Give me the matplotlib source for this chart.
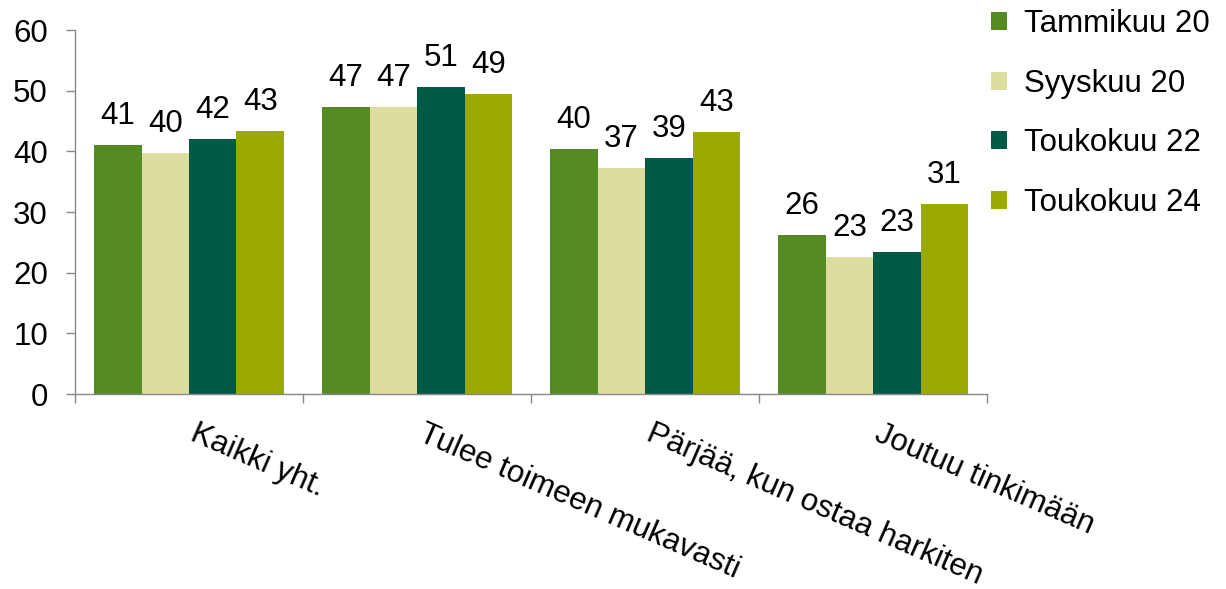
import numpy as np
import matplotlib
matplotlib.use('Agg')
import matplotlib.pyplot as plt
from matplotlib.patches import Patch

plt.rcParams['font.family'] = ['Liberation Sans', 'DejaVu Sans']

categories = ['Kaikki yht.', 'Tulee toimeen mukavasti', 'Pärjää, kun ostaa harkiten', 'Joutuu tinkimään']
series_names = ['Tammikuu 20', 'Syyskuu 20', 'Toukokuu 22', 'Toukokuu 24']
tammikuu20 = [41.0, 47.3, 40.4, 26.2]
syyskuu20 = [39.7, 47.3, 37.2, 22.6]
toukokuu22 = [42.0, 50.6, 38.9, 23.4]
toukokuu24 = [43.4, 49.4, 43.2, 31.4]
colors = ['#548C23', '#DDDDA0', '#005A46', '#9BAA00']

values = [tammikuu20, syyskuu20, toukokuu22, toukokuu24]
fs = 22.5

fig = plt.figure(figsize=(12.26, 5.89), dpi=100)
ax = fig.add_axes([0.0612, 0.331, 0.744, 0.618])

x = np.arange(len(categories))
w = 0.208
for i, vals in enumerate(values):
    pos = x + (i - 1.5) * w
    ax.bar(pos, vals, width=w, color=colors[i], label=series_names[i])
    for p, v in zip(pos, vals):
        ax.annotate('{:.0f}'.format(v), (p, v), xytext=(0, 10), textcoords='offset points',
                    ha='center', va='bottom', fontsize=fs)

ax.set_xlim(-0.5, len(categories) - 0.5)
ax.set_ylim(0, 60)
ax.set_yticks(range(0, 61, 10))
ax.tick_params(axis='y', labelsize=fs, length=6.5, pad=13, color='#888888', width=1)

# category labels, rotated, starting at the group centre
ax.set_xticks(np.arange(-0.5, len(categories)))
ax.set_xticklabels([])
ax.tick_params(axis='x', length=6.5, color='#888888', width=1)
for xi, cat in zip(x, categories):
    ax.annotate(cat, (xi, 0), xycoords=ax.get_xaxis_transform(), xytext=(0, -46),
                textcoords='offset pixels', rotation=-23.5, rotation_mode='anchor',
                ha='left', va='baseline', fontsize=fs, annotation_clip=False)

for side in ['top', 'right']:
    ax.spines[side].set_visible(False)
for side in ['left', 'bottom']:
    ax.spines[side].set_color('#888888')
    ax.spines[side].set_linewidth(1)

handles = [Patch(facecolor=c) for c in colors]
fig.legend(handles, series_names, loc='upper left', bbox_to_anchor=(0.806, 0.99),
           frameon=False, fontsize=fs, handlelength=0.5, handleheight=0.5,
           handletextpad=0.55, labelspacing=0.95, borderpad=0.1, borderaxespad=0)

plt.savefig('out.png', dpi=100)
